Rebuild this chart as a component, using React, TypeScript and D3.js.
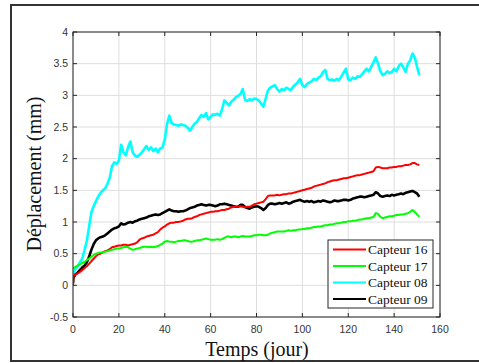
import React from "react";
import * as d3 from "d3";

const days: number[] = [0, 0.2, ...Array.from({ length: 151 }, (_, i) => i + 1)];

const capteur16: number[] = [0, 0.15, 0.17, 0.19, 0.21, 0.24, 0.27, 0.3, 0.34, 0.38, 0.42, 0.46, 0.49, 0.5, 0.52, 0.54, 0.55, 0.57, 0.6, 0.61, 0.62,
  0.63, 0.63, 0.64, 0.64, 0.63, 0.64, 0.65, 0.66, 0.68, 0.72, 0.74, 0.75, 0.77, 0.78, 0.79, 0.8, 0.82, 0.84, 0.88, 0.91,
  0.93, 0.96, 0.98, 0.99, 0.99, 1.0, 1.0, 1.01, 1.02, 1.04, 1.05, 1.05, 1.06, 1.08, 1.09, 1.11, 1.12, 1.13, 1.14, 1.15,
  1.16, 1.16, 1.17, 1.17, 1.18, 1.19, 1.19, 1.2, 1.21, 1.23, 1.24, 1.24, 1.24, 1.25, 1.24, 1.23, 1.24, 1.24, 1.26, 1.28,
  1.29, 1.3, 1.31, 1.32, 1.36, 1.41, 1.42, 1.42, 1.42, 1.43, 1.42, 1.43, 1.44, 1.44, 1.45, 1.45, 1.46, 1.47, 1.48, 1.49,
  1.5, 1.51, 1.52, 1.53, 1.54, 1.56, 1.57, 1.58, 1.59, 1.6, 1.61, 1.63, 1.64, 1.65, 1.66, 1.66, 1.67, 1.68, 1.69, 1.69,
  1.7, 1.71, 1.72, 1.73, 1.74, 1.74, 1.75, 1.76, 1.77, 1.78, 1.79, 1.8, 1.86, 1.87, 1.86, 1.85, 1.85, 1.85, 1.86, 1.86,
  1.87, 1.87, 1.88, 1.88, 1.89, 1.9, 1.9, 1.91, 1.93, 1.93, 1.91, 1.9];

const capteur17: number[] = [0.27, 0.27, 0.29, 0.31, 0.33, 0.35, 0.37, 0.4, 0.42, 0.45, 0.48, 0.5, 0.51, 0.52, 0.52, 0.53, 0.54, 0.55, 0.56, 0.57, 0.58,
  0.58, 0.59, 0.6, 0.61, 0.6, 0.58, 0.56, 0.57, 0.58, 0.59, 0.6, 0.61, 0.61, 0.6, 0.61, 0.6, 0.61, 0.62, 0.64, 0.66,
  0.69, 0.7, 0.69, 0.69, 0.68, 0.69, 0.7, 0.7, 0.71, 0.71, 0.7, 0.69, 0.69, 0.7, 0.71, 0.71, 0.72, 0.73, 0.74, 0.73,
  0.72, 0.72, 0.72, 0.73, 0.72, 0.73, 0.75, 0.77, 0.77, 0.76, 0.77, 0.77, 0.76, 0.77, 0.78, 0.77, 0.77, 0.77, 0.78, 0.79,
  0.79, 0.8, 0.8, 0.79, 0.79, 0.8, 0.82, 0.83, 0.84, 0.85, 0.85, 0.85, 0.85, 0.86, 0.87, 0.86, 0.87, 0.87, 0.88, 0.88,
  0.89, 0.89, 0.9, 0.9, 0.91, 0.92, 0.92, 0.93, 0.93, 0.94, 0.95, 0.95, 0.96, 0.96, 0.97, 0.98, 0.98, 0.99, 1.0, 1.0,
  1.01, 1.01, 1.02, 1.02, 1.03, 1.04, 1.04, 1.05, 1.06, 1.06, 1.07, 1.08, 1.14, 1.13, 1.08, 1.06, 1.07, 1.08, 1.09, 1.09,
  1.1, 1.11, 1.11, 1.12, 1.12, 1.13, 1.14, 1.16, 1.19, 1.16, 1.12, 1.08];

const capteur08: number[] = [0.18, 0.2, 0.25, 0.3, 0.36, 0.42, 0.55, 0.7, 0.92, 1.15, 1.25, 1.33, 1.4, 1.46, 1.5, 1.53, 1.6, 1.7, 1.88, 1.94, 1.92,
  1.97, 2.22, 2.1, 2.05, 2.18, 2.27, 2.1, 2.05, 2.03, 2.06, 2.1, 2.15, 2.2, 2.14, 2.18, 2.12, 2.16, 2.1, 2.16, 2.18,
  2.3, 2.55, 2.68, 2.56, 2.54, 2.53, 2.52, 2.54, 2.53, 2.52, 2.49, 2.44, 2.5, 2.55, 2.58, 2.64, 2.69, 2.66, 2.72, 2.62,
  2.66, 2.7, 2.69, 2.71, 2.68, 2.78, 2.92, 2.88, 2.84, 2.9, 2.93, 2.97, 2.99, 3.02, 3.1, 2.93, 2.91, 2.94, 2.92, 2.95,
  2.94, 2.92, 2.87, 2.82, 2.95, 3.08, 3.12, 3.14, 3.16, 3.1, 3.06, 3.1, 3.08, 3.12, 3.1, 3.08, 3.14, 3.17, 3.21, 3.26,
  3.16, 3.13, 3.18, 3.2, 3.22, 3.26, 3.24, 3.28, 3.3, 3.37, 3.4, 3.26, 3.24, 3.25, 3.23, 3.26, 3.24, 3.3, 3.36, 3.42,
  3.25, 3.24, 3.28, 3.26, 3.3, 3.29, 3.33, 3.38, 3.42, 3.38, 3.45, 3.52, 3.6, 3.5, 3.38, 3.32, 3.34, 3.38, 3.35, 3.37,
  3.42, 3.38, 3.46, 3.5, 3.44, 3.37, 3.5, 3.55, 3.66, 3.6, 3.45, 3.32];

const capteur09: number[] = [0.03, 0.12, 0.17, 0.2, 0.24, 0.28, 0.31, 0.36, 0.45, 0.56, 0.65, 0.71, 0.74, 0.76, 0.77, 0.79, 0.82, 0.85, 0.88, 0.9, 0.91,
  0.93, 0.98, 0.96, 0.97, 0.99, 1.0, 0.99, 1.01, 1.02, 1.04, 1.05, 1.06, 1.07, 1.09, 1.1, 1.11, 1.12, 1.11, 1.12, 1.14,
  1.16, 1.18, 1.2, 1.18, 1.17, 1.17, 1.16, 1.17, 1.17, 1.18, 1.2, 1.22, 1.23, 1.24, 1.26, 1.27, 1.28, 1.27, 1.26, 1.27,
  1.27, 1.26, 1.25, 1.26, 1.28, 1.28, 1.29, 1.28, 1.27, 1.26, 1.25, 1.24, 1.24, 1.27, 1.27, 1.24, 1.22, 1.21, 1.23, 1.24,
  1.25, 1.24, 1.22, 1.19, 1.22, 1.27, 1.29, 1.29, 1.28, 1.29, 1.3, 1.29, 1.3, 1.31, 1.29, 1.3, 1.32, 1.33, 1.34, 1.35,
  1.33, 1.32, 1.33, 1.32, 1.33, 1.31, 1.32, 1.33, 1.32, 1.34, 1.33, 1.32, 1.31, 1.32, 1.34, 1.33, 1.33, 1.34, 1.35, 1.35,
  1.34, 1.35, 1.37, 1.38, 1.39, 1.4, 1.4, 1.39, 1.4, 1.41, 1.42, 1.43, 1.47, 1.45, 1.41, 1.4, 1.41, 1.42, 1.41, 1.43,
  1.42, 1.43, 1.44, 1.45, 1.44, 1.46, 1.47, 1.48, 1.49, 1.47, 1.45, 1.4];

const xTicks: number[] = [0, 20, 40, 60, 80, 100, 120, 140, 160];
const yTicks: number[] = [-0.5, 0, 0.5, 1, 1.5, 2, 2.5, 3, 3.5, 4];
const seriesNames: string[] = ["Capteur 16", "Capteur 17", "Capteur 08", "Capteur 09"];
const seriesColors: string[] = ["#ff0000", "#00ff00", "#00ffff", "#000000"];
const seriesData: number[][] = [capteur16, capteur17, capteur08, capteur09];
const drawOrder: number[] = [2, 3, 0, 1];

export default function App() {
  const W = 479, H = 363;
  const L = 73, R = 440, T = 32, B = 317;
  const x = d3.scaleLinear().domain([0, 160]).range([L, R]);
  const y = d3.scaleLinear().domain([-0.5, 4]).range([B, T]);
  const axisColor = "#262626";
  const tickFont = "'Liberation Sans', Arial, Helvetica, sans-serif";
  const serif = "'Liberation Serif', 'Times New Roman', serif";

  const lineGen = (vals: number[]) =>
    d3.line<number>().x((_, i) => x(days[i])).y((v) => y(v))(vals) || "";

  const widths = [2, 2, 2.6, 2.6];
  const legX = 328, legY = 240, legW = 105, legH = 68;
  const legRows = [249.5, 266, 282.5, 299];

  return (
    <svg width={W} height={H} style={{ position: "absolute", left: 0, top: 0, background: "#fff" }}>
      <rect x={0} y={0} width={W} height={H} fill="#fff" />
      <rect x={11} y={5} width={470} height={356} fill="#fff" stroke="#333" strokeWidth={2} />
      <rect x={L} y={T} width={R - L} height={B - T} fill="#fff" />
      {xTicks.map((t) => (
        <line key={"gx" + t} x1={x(t)} x2={x(t)} y1={T} y2={B} stroke="#dedede" strokeWidth={1} />
      ))}
      {yTicks.map((t) => (
        <line key={"gy" + t} x1={L} x2={R} y1={y(t)} y2={y(t)} stroke="#dedede" strokeWidth={1} />
      ))}
      <defs>
        <clipPath id="plotclip">
          <rect x={L} y={T} width={R - L} height={B - T} />
        </clipPath>
      </defs>
      <g clipPath="url(#plotclip)">
        {drawOrder.map((k) => (
          <path key={"s" + k} d={lineGen(seriesData[k])} fill="none" stroke={seriesColors[k]}
            strokeWidth={widths[k]} strokeLinejoin="round" />
        ))}
      </g>
      <rect x={L} y={T} width={R - L} height={B - T} fill="none" stroke={axisColor} strokeWidth={1} />
      {xTicks.map((t) => (
        <g key={"tx" + t}>
          <line x1={x(t)} x2={x(t)} y1={B} y2={B - 4} stroke={axisColor} />
          <line x1={x(t)} x2={x(t)} y1={T} y2={T + 4} stroke={axisColor} />
          <text x={x(t)} y={333} textAnchor="middle" fontFamily={tickFont} fontSize={10.5} fill="#333">{t}</text>
        </g>
      ))}
      {yTicks.map((t) => (
        <g key={"ty" + t}>
          <line x1={L} x2={L + 4} y1={y(t)} y2={y(t)} stroke={axisColor} />
          <line x1={R} x2={R - 4} y1={y(t)} y2={y(t)} stroke={axisColor} />
          <text x={68} y={y(t) + 3.8} textAnchor="end" fontFamily={tickFont} fontSize={10.5} fill="#333">{t}</text>
        </g>
      ))}
      <text x={257} y={356} textAnchor="middle" fontFamily={serif} fontSize={20} fill="#111">Temps (jour)</text>
      <text transform={`translate(41,174) rotate(-90)`} textAnchor="middle" fontFamily={serif} fontSize={20} fill="#111">Déplacement (mm)</text>
      <rect x={legX} y={legY} width={legW} height={legH} fill="#fff" stroke={axisColor} strokeWidth={1} />
      {seriesNames.map((n, i) => (
        <g key={"lg" + i}>
          <line x1={333} x2={366} y1={legRows[i]} y2={legRows[i]} stroke={seriesColors[i]} strokeWidth={2} />
          <text x={368} y={legRows[i] + 4.5} fontFamily={serif} fontSize={13.5} fill="#111">{n}</text>
        </g>
      ))}
    </svg>
  );
}
